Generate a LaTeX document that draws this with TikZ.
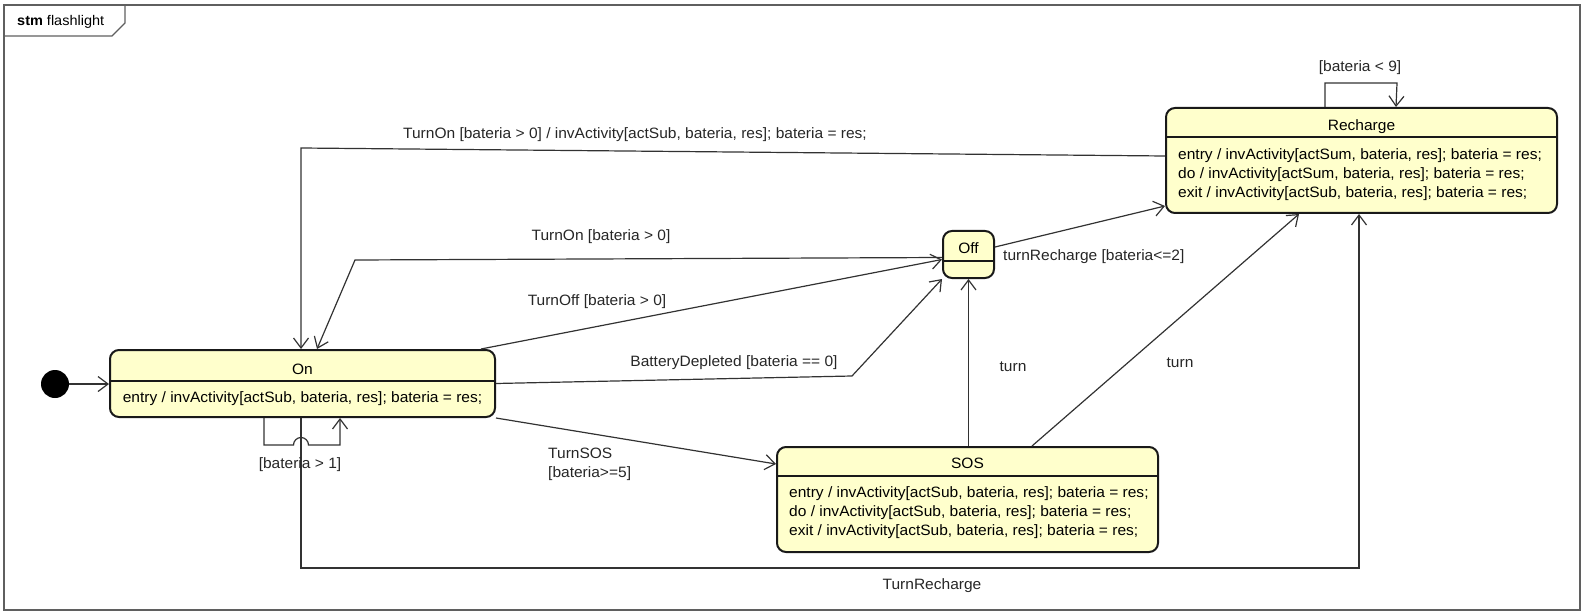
\documentclass[tikz,border=0pt]{standalone}
\usepackage{fontspec}
\setmainfont{Liberation Sans}[FakeStretch=1.035]
\definecolor{statefill}{RGB}{255, 255, 204}
\definecolor{stateline}{RGB}{25, 25, 25}
\definecolor{wire}{RGB}{50, 50, 50}
\definecolor{framegray}{RGB}{95, 95, 95}
\usepackage{tikz}
\usetikzlibrary{arrows.meta, positioning, calc}
\tikzset{
    state/.style={rectangle, rounded corners=9pt, draw=stateline, line width=2pt, fill=statefill, inner sep=0pt},
    statesep/.style={draw=stateline, line width=1.2pt},
    title/.style={font=\fontsize{15}{19}\selectfont, inner sep=0pt, anchor=base},
    body/.style={font=\fontsize{15}{19}\selectfont, align=left, inner sep=0pt},
    lbl/.style={font=\fontsize{15}{19}\selectfont, inner sep=0pt, text=black!85},
    trans/.style={wire, line width=1.2pt, -{Straight Barb[length=10pt, width=15pt, line width=1.2pt]}},
    initial/.style={circle, fill=black, minimum size=28pt, inner sep=0pt}
}
\begin{document}
\begin{tikzpicture}[x=1pt, y=-1pt]
    \useasboundingbox (0,0) rectangle (1594,612);
    % diagram frame
    \draw[framegray, line width=1.5pt] (4,5) rectangle (1580,610);
    \draw[framegray, line width=1.2pt] (4,36) -- (112,36) -- (125,23) -- (125,5);
    \node[font=\fontsize{14}{17}\selectfont, anchor=west, inner sep=0pt] (tag) at (17,22) {\textbf{stm} flashlight};

    % states
    \node[initial] (init) at (55,384) {};
    \node[state, minimum width=385pt, minimum height=67pt] (on) at (302.5,383.5) {};
    \node[state, minimum width=51pt, minimum height=47pt] (off) at (968.5,254.5) {};
    \node[state, minimum width=391pt, minimum height=105pt] (recharge) at (1361.5,160.5) {};
    \node[state, minimum width=381pt, minimum height=105pt] (sos) at (967.5,499.5) {};

    \draw[statesep] ([yshift=-32pt]on.north west) -- ([yshift=-32pt]on.north east);
    \draw[statesep] ([yshift=-31pt]off.north west) -- ([yshift=-31pt]off.north east);
    \draw[statesep] ([yshift=-30pt]recharge.north west) -- ([yshift=-30pt]recharge.north east);
    \draw[statesep] ([yshift=-30pt]sos.north west) -- ([yshift=-30pt]sos.north east);

    \node[title] (on-t) at ([yshift=-25pt]on.north) {On};
    \node[title] (on-b) at ([yshift=-53pt]on.north) {entry / invActivity[actSub, bateria, res]; bateria = res;};
    \node[title] (off-t) at ([yshift=-23.5pt]off.north) {Off};
    \node[title] (recharge-t) at ([yshift=-23.5pt]recharge.north) {Recharge};
    \node[body, anchor=west] (recharge-b) at ([xshift=13pt, yshift=-14pt]recharge.west) {entry / invActivity[actSum, bateria, res]; bateria = res;\\do / invActivity[actSum, bateria, res]; bateria = res;\\exit / invActivity[actSub, bateria, res]; bateria = res;};
    \node[title] (sos-t) at ([yshift=-22.5pt]sos.north) {SOS};
    \node[body, anchor=west] (sos-b) at ([xshift=13pt, yshift=-13pt]sos.west) {entry / invActivity[actSub, bateria, res]; bateria = res;\\do / invActivity[actSub, bateria, res]; bateria = res;\\exit / invActivity[actSub, bateria, res]; bateria = res;};

    % bend points
    \coordinate (b1) at (301,148);
    \coordinate (b2) at (355,260);
    \coordinate (b3) at (852,376);
    \coordinate (b4) at (301,568);
    \coordinate (b5) at (1359,568);

    % transitions
    \draw[trans] (init) -- (on.west |- init);
    \draw[trans] ([yshift=-49pt]recharge.north west) -- (b1) -- (b1 |- on.north);
    \draw[trans] ([yshift=-3pt]off.west) -- (b2) -- ([xshift=208pt]on.north west);
    \draw[trans] ([xshift=-15pt]on.north east) -- ([yshift=-5pt]off.west);
    \draw[trans] (on.east) -- (b3) -- (off.south west);
    \draw[trans] (on.south east) -- ([yshift=-18pt]sos.north west);
    \draw[trans] (off |- sos.north) -- (off.south);
    \draw[trans] ([xshift=256pt]sos.north west) -- ([xshift=134pt]recharge.south west);
    \draw[trans] ([yshift=-17pt]off.north east) -- ([yshift=8pt]recharge.south west);
    \draw[trans] (b4 |- on.south) -- (b4) -- (b5) -- (b5 |- recharge.south);
    % self loops
    \draw[trans] ([xshift=155pt]on.south west) |- (293.5,445) arc[start angle=180, end angle=0, radius=7.5pt] -| ([xshift=231pt]on.south west);
    \draw[trans] ([xshift=160pt]recharge.north west) |- (1397,83) -- ([xshift=231pt]recharge.north west);

    % labels
    \node[lbl] (l-long) at (635,135) {TurnOn [bateria > 0] / invActivity[actSub, bateria, res]; bateria = res;};
    \node[lbl] (l-turnon) at (601,237) {TurnOn [bateria > 0]};
    \node[lbl] (l-turnoff) at (597,302) {TurnOff [bateria > 0]};
    \node[lbl] (l-depleted) at (734,363) {BatteryDepleted [bateria == 0]};
    \node[lbl, align=left, anchor=west] (l-sos) at (548,464) {TurnSOS\\{[bateria>=5]}};
    \node[lbl] (l-turn1) at (1013,367) {turn};
    \node[lbl] (l-turn2) at (1180,363) {turn};
    \node[lbl, anchor=west] (l-offrech) at (1003,257) {turnRecharge [bateria<=2]};
    \node[lbl] (l-recharge) at (932,586) {TurnRecharge};
    \node[lbl] (l-loop9) at (1360,68) {[bateria < 9]};
    \node[lbl] (l-loop1) at (300,465) {[bateria > 1]};
\end{tikzpicture}
\end{document}
